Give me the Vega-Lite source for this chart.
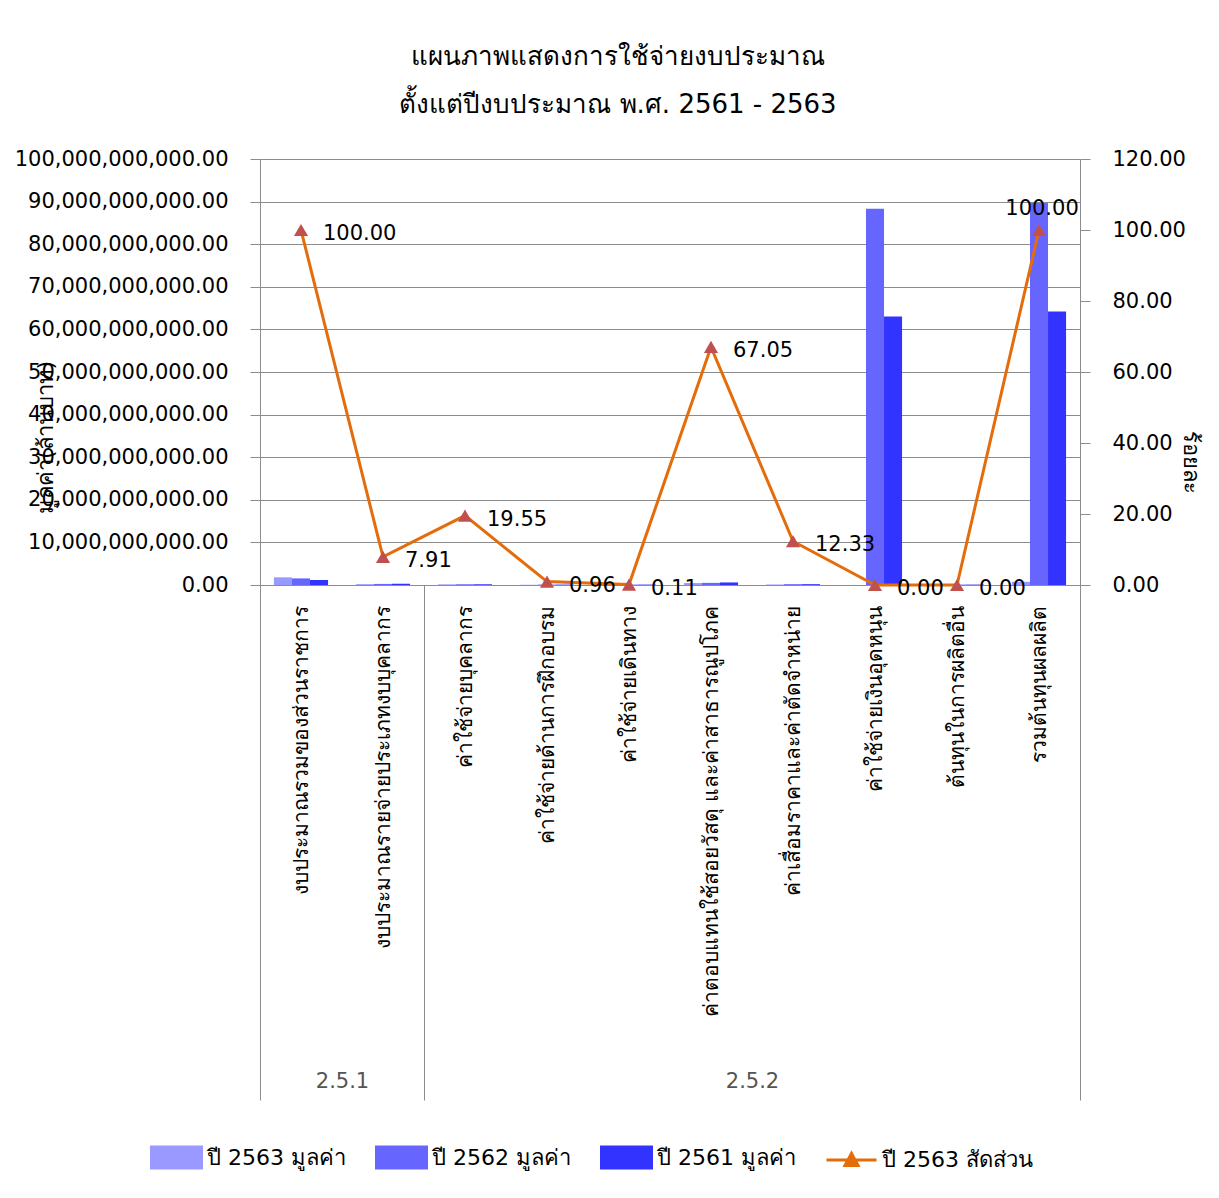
{
  "$schema": "https://vega.github.io/schema/vega-lite/v6.json",
  "width": 820,
  "height": 426,
  "autosize": {"type": "none"},
  "padding": {"left": 260, "top": 159, "right": 139, "bottom": 613},
  "background": "white",
  "config": {
    "font": "DejaVu Sans",
    "view": {"stroke": null},
    "axis": {
      "domainColor": "#8c8c8c",
      "tickColor": "#8c8c8c",
      "gridColor": "#8c8c8c",
      "labelColor": "#000000",
      "labelFont": "DejaVu Sans",
      "labelFontSize": 21,
      "titleFontWeight": "normal",
      "titleColor": "#000000",
      "titleFont": "DejaVu Sans"
    }
  },
  "title": {
    "text": ["แผนภาพแสดงการใช้จ่ายงบประมาณ", "ตั้งแต่ปีงบประมาณ พ.ศ. 2561  - 2563"],
    "fontSize": 26,
    "fontWeight": "normal",
    "lineHeight": 48,
    "anchor": "middle",
    "dx": -52,
    "offset": 30,
    "color": "#000000"
  },
  "datasets": {
    "bars": [
      {"category": "งบประมาณรวมของส่วนราชการ", "series": "ปี 2563 มูลค่า", "value": 1800000000},
      {"category": "งบประมาณรวมของส่วนราชการ", "series": "ปี 2562 มูลค่า", "value": 1550000000},
      {"category": "งบประมาณรวมของส่วนราชการ", "series": "ปี 2561 มูลค่า", "value": 1150000000},
      {"category": "งบประมาณรายจ่ายประเภทงบบุคลากร", "series": "ปี 2563 มูลค่า", "value": 200000000},
      {"category": "งบประมาณรายจ่ายประเภทงบบุคลากร", "series": "ปี 2562 มูลค่า", "value": 250000000},
      {"category": "งบประมาณรายจ่ายประเภทงบบุคลากร", "series": "ปี 2561 มูลค่า", "value": 300000000},
      {"category": "ค่าใช้จ่ายบุคลากร", "series": "ปี 2563 มูลค่า", "value": 150000000},
      {"category": "ค่าใช้จ่ายบุคลากร", "series": "ปี 2562 มูลค่า", "value": 200000000},
      {"category": "ค่าใช้จ่ายบุคลากร", "series": "ปี 2561 มูลค่า", "value": 200000000},
      {"category": "ค่าใช้จ่ายด้านการฝึกอบรม", "series": "ปี 2563 มูลค่า", "value": 50000000},
      {"category": "ค่าใช้จ่ายด้านการฝึกอบรม", "series": "ปี 2562 มูลค่า", "value": 100000000},
      {"category": "ค่าใช้จ่ายด้านการฝึกอบรม", "series": "ปี 2561 มูลค่า", "value": 100000000},
      {"category": "ค่าใช้จ่ายเดินทาง", "series": "ปี 2563 มูลค่า", "value": 20000000},
      {"category": "ค่าใช้จ่ายเดินทาง", "series": "ปี 2562 มูลค่า", "value": 100000000},
      {"category": "ค่าใช้จ่ายเดินทาง", "series": "ปี 2561 มูลค่า", "value": 100000000},
      {"category": "ค่าตอบแทนใช้สอยวัสดุ  และค่าสาธารณูปโภค", "series": "ปี 2563 มูลค่า", "value": 450000000},
      {"category": "ค่าตอบแทนใช้สอยวัสดุ  และค่าสาธารณูปโภค", "series": "ปี 2562 มูลค่า", "value": 500000000},
      {"category": "ค่าตอบแทนใช้สอยวัสดุ  และค่าสาธารณูปโภค", "series": "ปี 2561 มูลค่า", "value": 600000000},
      {"category": "ค่าเสื่อมราคาและค่าตัดจำหน่าย", "series": "ปี 2563 มูลค่า", "value": 100000000},
      {"category": "ค่าเสื่อมราคาและค่าตัดจำหน่าย", "series": "ปี 2562 มูลค่า", "value": 200000000},
      {"category": "ค่าเสื่อมราคาและค่าตัดจำหน่าย", "series": "ปี 2561 มูลค่า", "value": 200000000},
      {"category": "ค่าใช้จ่ายเงินอุดหนุน", "series": "ปี 2563 มูลค่า", "value": 0},
      {"category": "ค่าใช้จ่ายเงินอุดหนุน", "series": "ปี 2562 มูลค่า", "value": 88300000000},
      {"category": "ค่าใช้จ่ายเงินอุดหนุน", "series": "ปี 2561 มูลค่า", "value": 63000000000},
      {"category": "ต้นทุนในการผลิตอื่น", "series": "ปี 2563 มูลค่า", "value": 0},
      {"category": "ต้นทุนในการผลิตอื่น", "series": "ปี 2562 มูลค่า", "value": 100000000},
      {"category": "ต้นทุนในการผลิตอื่น", "series": "ปี 2561 มูลค่า", "value": 100000000},
      {"category": "รวมต้นทุนผลผลิต", "series": "ปี 2563 มูลค่า", "value": 750000000},
      {"category": "รวมต้นทุนผลผลิต", "series": "ปี 2562 มูลค่า", "value": 89700000000},
      {"category": "รวมต้นทุนผลผลิต", "series": "ปี 2561 มูลค่า", "value": 64200000000}
    ],
    "ratio": [
      {"category": "งบประมาณรวมของส่วนราชการ", "ratio": 100},
      {"category": "งบประมาณรายจ่ายประเภทงบบุคลากร", "ratio": 7.91},
      {"category": "ค่าใช้จ่ายบุคลากร", "ratio": 19.55},
      {"category": "ค่าใช้จ่ายด้านการฝึกอบรม", "ratio": 0.96},
      {"category": "ค่าใช้จ่ายเดินทาง", "ratio": 0.11},
      {"category": "ค่าตอบแทนใช้สอยวัสดุ  และค่าสาธารณูปโภค", "ratio": 67.05},
      {"category": "ค่าเสื่อมราคาและค่าตัดจำหน่าย", "ratio": 12.33},
      {"category": "ค่าใช้จ่ายเงินอุดหนุน", "ratio": 0},
      {"category": "ต้นทุนในการผลิตอื่น", "ratio": 0},
      {"category": "รวมต้นทุนผลผลิต", "ratio": 100}
    ]
  },
  "layer": [
    {
      "data": {"name": "bars"},
      "mark": {"type": "bar"},
      "encoding": {
        "x": {
          "field": "category",
          "type": "nominal",
          "sort": ["งบประมาณรวมของส่วนราชการ", "งบประมาณรายจ่ายประเภทงบบุคลากร", "ค่าใช้จ่ายบุคลากร", "ค่าใช้จ่ายด้านการฝึกอบรม", "ค่าใช้จ่ายเดินทาง", "ค่าตอบแทนใช้สอยวัสดุ  และค่าสาธารณูปโภค", "ค่าเสื่อมราคาและค่าตัดจำหน่าย", "ค่าใช้จ่ายเงินอุดหนุน", "ต้นทุนในการผลิตอื่น", "รวมต้นทุนผลผลิต"],
          "scale": {"paddingInner": 0.34, "paddingOuter": 0.17},
          "axis": {
            "orient": "bottom",
            "title": null,
            "labelAngle": -90,
            "labelAlign": "right",
            "labelBaseline": "middle",
            "labelFontSize": 21,
            "labelLimit": 700,
            "labelPadding": -495,
            "tickSize": 515,
            "tickOffset": 41,
            "labelOffset": -41,
            "tickOpacity": {"condition": {"test": "datum.value == 'งบประมาณรายจ่ายประเภทงบบุคลากร' || datum.value == 'รวมต้นทุนผลผลิต'", "value": 1}, "value": 0},
            "domain": true,
            "grid": false
          }
        },
        "xOffset": {
          "field": "series",
          "type": "nominal",
          "sort": ["ปี 2563 มูลค่า", "ปี 2562 มูลค่า", "ปี 2561 มูลค่า"],
          "scale": {"paddingInner": 0, "paddingOuter": 0}
        },
        "y": {
          "field": "value",
          "type": "quantitative",
          "scale": {"domain": [0, 100000000000], "nice": false},
          "axis": {
            "title": "มูลค่า(ล้านบาท)",
            "titleFontSize": 22,
            "titleX": -215,
            "titleY": 278,
            "titleBaseline": "middle",
            "format": ",.2f",
            "values": [0, 10000000000, 20000000000, 30000000000, 40000000000, 50000000000, 60000000000, 70000000000, 80000000000, 90000000000, 100000000000],
            "labelLimit": 400,
            "grid": true,
            "tickSize": 10,
            "labelPadding": 22,
            "domain": true
          }
        },
        "color": {
          "field": "series",
          "type": "nominal",
          "scale": {
            "domain": ["ปี 2563 มูลค่า", "ปี 2562 มูลค่า", "ปี 2561 มูลค่า", "ปี 2563 สัดส่วน"],
            "range": ["#9999FF", "#6666FF", "#3333FF", "#E46C0A"]
          },
          "legend": {
            "orient": "none",
            "direction": "horizontal",
            "legendX": -110,
            "legendY": 972,
            "title": null,
            "padding": 0,
            "labelFontSize": 22,
            "labelFont": "DejaVu Sans",
            "labelColor": "#000000",
            "labelOffset": 4,
            "columnPadding": 24,
            "symbolSize": 2500,
            "symbolStrokeWidth": 3,
            "encode": {
              "symbols": {
                "update": {
                  "shape": {"signal": "datum.label == 'ปี 2563 สัดส่วน' ? 'M-1,0H1M-0.26,0.22L0,-0.26L0.26,0.22Z' : 'M-1,-0.42H1V0.42H-1Z'"},
                  "fill": {"signal": "datum.label == 'ปี 2563 สัดส่วน' ? '#C0504D' : scale('color', datum.value)"},
                  "stroke": {"signal": "datum.label == 'ปี 2563 สัดส่วน' ? '#E46C0A' : 'transparent'"},
                  "strokeWidth": {"value": 3},
                  "opacity": {"value": 1}
                }
              }
            }
          }
        }
      }
    },
    {
      "data": {"name": "ratio"},
      "encoding": {
        "x": {
          "field": "category",
          "type": "nominal",
          "sort": ["งบประมาณรวมของส่วนราชการ", "งบประมาณรายจ่ายประเภทงบบุคลากร", "ค่าใช้จ่ายบุคลากร", "ค่าใช้จ่ายด้านการฝึกอบรม", "ค่าใช้จ่ายเดินทาง", "ค่าตอบแทนใช้สอยวัสดุ  และค่าสาธารณูปโภค", "ค่าเสื่อมราคาและค่าตัดจำหน่าย", "ค่าใช้จ่ายเงินอุดหนุน", "ต้นทุนในการผลิตอื่น", "รวมต้นทุนผลผลิต"],
          "axis": {
            "orient": "bottom",
            "title": null,
            "values": ["งบประมาณรวมของส่วนราชการ", "ค่าตอบแทนใช้สอยวัสดุ  และค่าสาธารณูปโภค"],
            "labelExpr": "datum.value == 'งบประมาณรวมของส่วนราชการ' ? '2.5.1' : '2.5.2'",
            "labelAngle": 0,
            "labelAlign": "center",
            "labelBaseline": "top",
            "labelFontSize": 21,
            "labelColor": "#555555",
            "tickSize": 515,
            "tickOffset": -41,
            "labelOffset": 82,
            "labelPadding": -30,
            "tickOpacity": {"condition": {"test": "datum.value == 'งบประมาณรวมของส่วนราชการ'", "value": 1}, "value": 0},
            "domain": false,
            "grid": false
          }
        },
        "y": {
          "field": "ratio",
          "type": "quantitative",
          "scale": {"domain": [0, 120], "nice": false},
          "axis": {
            "orient": "right",
            "title": "ร้อยละ",
            "titleFontSize": 22,
            "titleAngle": 90,
            "titleX": 110,
            "titleY": 303,
            "titleBaseline": "middle",
            "format": ".2f",
            "values": [0, 20, 40, 60, 80, 100, 120],
            "grid": false,
            "tickSize": 10,
            "labelPadding": 22,
            "domain": true
          }
        }
      },
      "layer": [
        {
          "mark": {"type": "line", "strokeWidth": 3},
          "encoding": {"color": {"datum": "ปี 2563 สัดส่วน"}}
        },
        {
          "mark": {"type": "point", "shape": "triangle-up", "size": 200, "filled": true, "fill": "#C0504D", "opacity": 1}
        },
        {
          "transform": [{"filter": "datum.category != 'รวมต้นทุนผลผลิต'"}],
          "mark": {"type": "text", "align": "left", "baseline": "middle", "dx": 22, "dy": 4, "fontSize": 21, "color": "#000000"},
          "encoding": {"text": {"field": "ratio", "type": "quantitative", "format": ".2f"}}
        },
        {
          "transform": [{"filter": "datum.category == 'รวมต้นทุนผลผลิต'"}],
          "mark": {"type": "text", "align": "center", "baseline": "middle", "dx": 3, "dy": -21, "fontSize": 21, "color": "#000000"},
          "encoding": {"text": {"field": "ratio", "type": "quantitative", "format": ".2f"}}
        }
      ]
    }
  ],
  "resolve": {"scale": {"y": "independent"}, "axis": {"x": "independent"}}
}
